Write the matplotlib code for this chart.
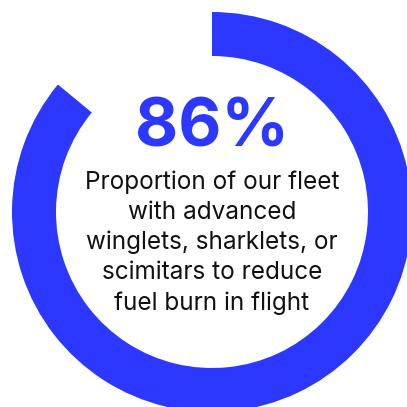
import matplotlib
matplotlib.use("Agg")
import matplotlib.pyplot as plt

# data
shares = [86, 14]
labels = ["Advanced wingtips", "Other"]
headline = "86%"
caption = ["Proportion of our fleet",
           "with advanced",
           "winglets, sharklets, or",
           "scimitars to reduce",
           "fuel burn in flight"]

blue = "#2c38ff"

fig = plt.figure(figsize=(4.07, 4.07), dpi=100)
ax = fig.add_axes([0, 0, 1, 1])

# ring, clockwise from 12 o'clock
ax.pie(shares, colors=[blue, "none"], startangle=90, counterclock=False,
       radius=200, center=(212, 195),
       wedgeprops=dict(width=44, linewidth=0))

ax.set_xlim(0, 407)
ax.set_ylim(0, 407)
ax.set_aspect("equal")
ax.axis("off")

ax.text(212, 278, headline, ha="center", va="center", color=blue,
        fontsize=48, fontweight="bold", family="Inter")

for i, line in enumerate(caption):
    ax.text(212, 225 - i * 30.3, line, ha="center", va="center",
            color="#111111", fontsize=17.5, family="Inter")

fig.savefig("out.png", dpi=100)
